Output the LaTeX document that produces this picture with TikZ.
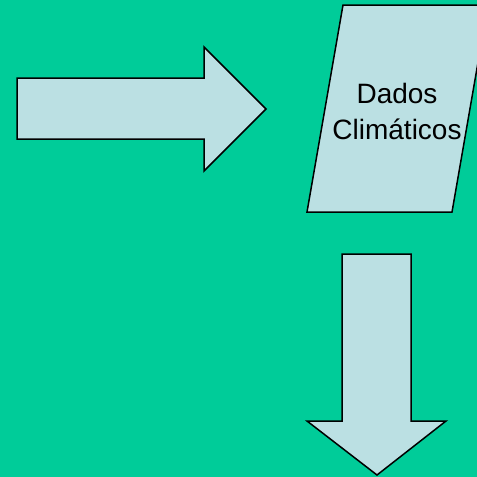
\documentclass[tikz,border=0pt]{standalone}
\usepackage{fontspec}
\setmainfont{Liberation Sans}
\definecolor{bggreen}{HTML}{00CC99}
\definecolor{shapefill}{HTML}{BBE0E3}
\begin{document}
\begin{tikzpicture}[x=1pt,y=-1pt,
  shapestyle/.style={fill=shapefill,draw=black,line width=1.5pt,line join=miter},
  labelstyle/.style={font=\fontsize{28}{36}\selectfont,align=center,inner sep=0pt}]
  \fill[bggreen] (0,0) rectangle (477,477);
  \useasboundingbox (0,0) rectangle (477,477);
  \clip (0,0) rectangle (477,477);
  % arrow pointing right
  \draw[shapestyle] (17,78) -- (204,78) -- (204,47) -- (266,109) -- (204,171)
    -- (204,139) -- (17,139) -- cycle;
  % data parallelogram
  \draw[shapestyle] (343,5) -- (488,5) -- (452,212) -- (307,212) -- cycle;
  \node[labelstyle] (dados) at (397,111) {Dados\\Climáticos};
  % arrow pointing down
  \draw[shapestyle] (342,254) -- (411,254) -- (411,421) -- (446,421) -- (377,475)
    -- (307,421) -- (342,421) -- cycle;
\end{tikzpicture}
\end{document}
